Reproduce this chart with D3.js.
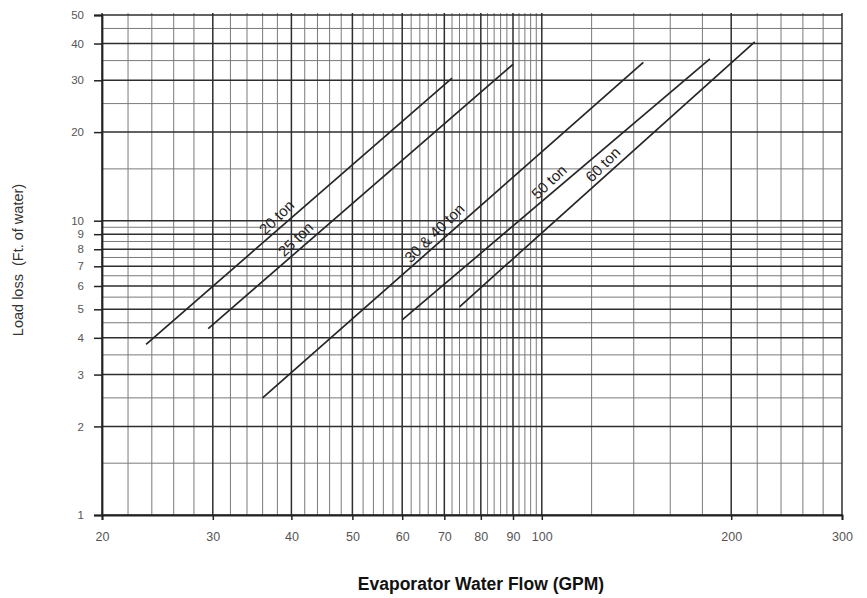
<!DOCTYPE html>
<html>
<head>
<meta charset="utf-8">
<script src="https://cdn.jsdelivr.net/npm/d3@7"></script>
<style>
  body { margin: 0; background: #fff; }
  text { font-family: "Liberation Sans", Arial, sans-serif; }
</style>
</head>
<body>
<div id="chart"></div>
<script>
// tick labels
var flowTicks = [20, 30, 40, 50, 60, 70, 80, 90, 100, 200, 300]
var lossTicks = [1, 2, 3, 4, 5, 6, 7, 8, 9, 10, 20, 30, 40, 50]
// light grid lines of the paper
var flowMinor = [22, 24, 26, 28, 32, 34, 36, 38, 42, 44, 46, 48, 52, 54, 56, 58,
    62, 64, 66, 68, 72, 74, 76, 78, 82, 84, 86, 88, 92, 94, 96, 98,
    120, 140, 160, 180, 220, 240, 260, 280]
var lossMinor = [1.5, 2.5, 3.5, 4.5, 5.5, 6.5, 7.5, 8.5, 9.5, 15, 25, 35, 45]

// one straight line per unit size (start / end)
var units = ['20 ton', '25 ton', '30 & 40 ton', '50 ton', '60 ton']
var flowStart = [23.5, 29.5, 36, 60, 74]
var flowEnd = [72, 90, 145, 185, 218]
var lossStart = [3.8, 4.3, 2.5, 4.6, 5.1]
var lossEnd = [30.5, 34, 34.5, 35.5, 40.5]
var labelPos = [0.45, 0.31, 0.47, 0.50, 0.51]

var svg = d3.select('#chart')
    .append('svg')
    .attr('width', 867)
    .attr('height', 598)

var x = d3.scaleLog().domain([20, 300]).range([102, 842])
var y = d3.scaleLog().domain([1, 50]).range([515, 15])

var grid = svg.append('g')

grid.selectAll('.vminor')
    .data(flowMinor)
    .enter()
    .append('line')
    .attr('x1', d => x(d)).attr('x2', d => x(d))
    .attr('y1', y(50) - 2).attr('y2', y(1))
    .attr('stroke', '#7a7a7a')
    .attr('stroke-width', 1)

grid.selectAll('.hminor')
    .data(lossMinor)
    .enter()
    .append('line')
    .attr('x1', x(20)).attr('x2', x(300))
    .attr('y1', d => y(d)).attr('y2', d => y(d))
    .attr('stroke', '#7a7a7a')
    .attr('stroke-width', 1)

grid.selectAll('.vmajor')
    .data(flowTicks)
    .enter()
    .append('line')
    .attr('x1', d => x(d)).attr('x2', d => x(d))
    .attr('y1', y(50) - 2).attr('y2', y(1))
    .attr('stroke', '#2e2e2e')
    .attr('stroke-width', 1.5)

grid.selectAll('.hmajor')
    .data(lossTicks)
    .enter()
    .append('line')
    .attr('x1', x(20)).attr('x2', x(300))
    .attr('y1', d => y(d)).attr('y2', d => y(d))
    .attr('stroke', '#2e2e2e')
    .attr('stroke-width', 1.5)

// axes
var xAxis = d3.axisBottom(x)
    .tickValues(flowTicks)
    .tickFormat(d3.format('d'))
    .tickSize(5)
    .tickPadding(12)

var yAxis = d3.axisLeft(y)
    .tickValues(lossTicks)
    .tickFormat(d3.format('d'))
    .tickSize(8)
    .tickPadding(10)

var gx = svg.append('g')
    .attr('transform', `translate(0,${y(1)})`)
    .call(xAxis)
gx.select('.domain').attr('stroke', '#222').attr('stroke-width', 1.8)
gx.selectAll('.tick line').attr('stroke', '#222').attr('stroke-width', 1.5)
gx.selectAll('text')
    .attr('fill', '#555')
    .style('font-size', '12.5px')
    .style('font-family', '"Liberation Sans", Arial, sans-serif')

var gy = svg.append('g')
    .attr('transform', `translate(${x(20)},0)`)
    .call(yAxis)
gy.select('.domain').attr('stroke', '#222').attr('stroke-width', 1.8)
gy.selectAll('.tick line').attr('stroke', '#222').attr('stroke-width', 1.5)
gy.selectAll('text')
    .attr('fill', '#555')
    .style('font-size', '11.5px')
    .style('font-family', '"Liberation Sans", Arial, sans-serif')

// unit lines
var lines = units.map((u, i) => ({
    name: u,
    x1: x(flowStart[i]), y1: y(lossStart[i]),
    x2: x(flowEnd[i]), y2: y(lossEnd[i]),
    t: labelPos[i]
}))

svg.selectAll('.unit')
    .data(lines)
    .enter()
    .append('line')
    .attr('class', 'unit')
    .attr('x1', d => d.x1).attr('y1', d => d.y1)
    .attr('x2', d => d.x2).attr('y2', d => d.y2)
    .attr('stroke', '#262626')
    .attr('stroke-width', 1.7)

svg.selectAll('.unit-label')
    .data(lines)
    .enter()
    .append('text')
    .attr('class', 'unit-label')
    .attr('transform', d => {
        let px = d.x1 + (d.x2 - d.x1) * d.t
        let py = d.y1 + (d.y2 - d.y1) * d.t
        let ang = Math.atan2(d.y2 - d.y1, d.x2 - d.x1) * 180 / Math.PI
        return `translate(${px},${py}) rotate(${ang - 3})`
    })
    .attr('dy', '-5')
    .attr('text-anchor', 'middle')
    .attr('fill', '#1e1e1e')
    .style('font-size', '15px')
    .text(d => d.name)

// titles
svg.append('text')
    .attr('transform', 'translate(23,260) rotate(-90)')
    .attr('text-anchor', 'middle')
    .attr('fill', '#333')
    .style('font-size', '14.5px')
    .attr('xml:space', 'preserve')
    .text('Load loss  (Ft. of water)')

svg.append('text')
    .attr('x', 481)
    .attr('y', 590)
    .attr('text-anchor', 'middle')
    .attr('fill', '#111')
    .style('font-size', '17.5px')
    .style('font-weight', 'bold')
    .text('Evaporator Water Flow (GPM)')
</script>
</body>
</html>
